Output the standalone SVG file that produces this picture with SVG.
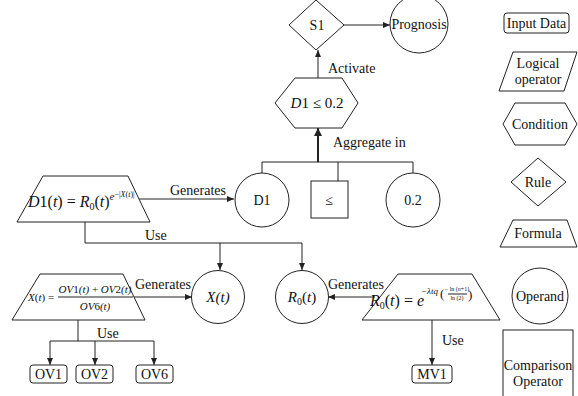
<svg xmlns="http://www.w3.org/2000/svg" width="578" height="396" viewBox="0 0 578 396" font-size="14">
<defs>
<style>
.s{fill:#fff;stroke:#222;stroke-width:1}
.c{fill:none;stroke:#222;stroke-width:1}
.ct{fill:none;stroke:#222;stroke-width:2}
text{font-family:'Liberation Serif','DejaVu Serif','Times New Roman',serif;fill:#111}
.m{text-anchor:middle}
.i{font-style:italic}
</style>
<marker id="a" markerUnits="userSpaceOnUse" markerWidth="7" markerHeight="6" refX="7" refY="3" orient="auto"><path d="M0,0 L7,3 L0,6 z" fill="#222"/></marker>
<marker id="at" markerUnits="userSpaceOnUse" markerWidth="8" markerHeight="8" refX="8" refY="4" orient="auto"><path d="M0,0 L8,4 L0,8 z" fill="#222"/></marker>
</defs>
<rect width="578" height="396" fill="#fff"/>

<g id="connectors">
<line class="c" x1="343" y1="25" x2="390" y2="25" marker-end="url(#a)"/>
<line class="c" x1="318" y1="78" x2="318" y2="50" marker-end="url(#a)"/>
<polyline class="c" points="262,173 262,162 413,162 413,173"/>
<line class="c" x1="338" y1="162" x2="338" y2="181"/>
<line class="ct" x1="318" y1="162" x2="318" y2="128" marker-end="url(#at)"/>
<line class="c" x1="137" y1="199" x2="234" y2="199" marker-end="url(#a)"/>
<polyline class="c" points="85,222 85,243 302,243 302,270" marker-end="url(#a)"/>
<line class="c" x1="220" y1="243" x2="220" y2="270" marker-end="url(#a)"/>
<line class="c" x1="133" y1="297" x2="192" y2="297" marker-end="url(#a)"/>
<line class="c" x1="78" y1="320" x2="78" y2="341"/>
<line class="c" x1="50" y1="341" x2="154" y2="341"/>
<line class="c" x1="50" y1="341" x2="50" y2="365" marker-end="url(#a)"/>
<line class="c" x1="95" y1="341" x2="95" y2="365" marker-end="url(#a)"/>
<line class="c" x1="154" y1="341" x2="154" y2="365" marker-end="url(#a)"/>
<line class="c" x1="375" y1="297" x2="328" y2="297" marker-end="url(#a)"/>
<line class="c" x1="432" y1="320" x2="432" y2="365" marker-end="url(#a)"/>
<text x="328" y="73">Activate</text>
<text x="333" y="147">Aggregate in</text>
<text x="170" y="195">Generates</text>
<text x="145" y="240">Use</text>
<text x="135" y="289">Generates</text>
<text x="97" y="338">Use</text>
<text x="328" y="289">Generates</text>
<text x="442" y="345">Use</text>
</g>

<g id="s1"><polygon class="s" points="316,0 344,25 316,50 289,25"/><text class="m" x="317" y="30">S1</text></g>
<g id="prognosis"><circle class="s" cx="419" cy="24" r="29"/><text class="m" x="419" y="29">Prognosis</text></g>
<g id="cond"><polygon class="s" points="275,103 295,78 342,78 358,103 342,128 295,128"/><text class="m" x="317" y="108" font-size="15"><tspan class="i">D</tspan>1 ≤ 0.2</text></g>
<g id="d1"><circle class="s" cx="262" cy="200" r="27"/><text class="m" x="262" y="205">D1</text></g>
<g id="le"><rect class="s" x="311" y="181" width="37" height="37"/><text class="m" x="329" y="205">≤</text></g>
<g id="v02"><circle class="s" cx="413" cy="200" r="27"/><text class="m" x="413" y="205">0.2</text></g>

<g id="f-d1"><polygon class="s" points="43,176 128,176 150,222 17,222"/>
<text x="28" y="207" font-size="16"><tspan class="i">D</tspan>1(<tspan class="i">t</tspan>) = <tspan class="i">R</tspan><tspan font-size="10" dy="3">0</tspan><tspan dy="-3">(</tspan><tspan class="i">t</tspan>)<tspan class="i" font-size="11" dy="-7">e</tspan><tspan font-size="8" dy="-3">−|<tspan class="i">X</tspan>(<tspan class="i">t</tspan>)|</tspan></text>
</g>

<g id="xt"><circle class="s" cx="218" cy="297" r="26.5"/><text class="m i" x="218" y="302" font-size="15">X(t)</text></g>
<g id="r0"><circle class="s" cx="302" cy="297" r="26.5"/><text class="m" x="302" y="302" font-size="15"><tspan class="i">R</tspan><tspan font-size="10" dy="3">0</tspan><tspan dy="-3">(</tspan><tspan class="i">t</tspan>)</text></g>

<g id="f-x"><polygon class="s" points="40,274 123,274 145,320 12,320"/>
<text x="28" y="301" font-size="11"><tspan class="i">X</tspan>(<tspan class="i">t</tspan>) =</text>
<text class="m i" x="95" y="293" font-size="11">OV<tspan font-style="normal">1</tspan>(t) <tspan font-style="normal">+</tspan> OV<tspan font-style="normal">2</tspan>(t)</text>
<line class="c" x1="58" y1="297" x2="133" y2="297"/>
<text class="m i" x="95" y="310" font-size="11">OV<tspan font-style="normal">6</tspan>(t)</text>
</g>

<g id="f-r0"><polygon class="s" points="398,274 472,274 500,320 362,320"/>
<text x="370" y="306" font-size="16"><tspan class="i">R</tspan><tspan font-size="10" dy="3">0</tspan><tspan dy="-3">(</tspan><tspan class="i">t</tspan>) = <tspan class="i">e</tspan></text>
<text x="421" y="294" font-size="9" class="i">−λtq</text>
<text x="440" y="298" font-size="13">(</text>
<text class="m" x="457" y="291" font-size="6">− ln (<tspan class="i">n</tspan>+1)</text>
<line class="c" x1="448" y1="294" x2="467" y2="294" stroke-width="0.6"/>
<text class="m" x="457" y="300" font-size="6">ln (2)</text>
<text x="468" y="299" font-size="13">)</text>
</g>

<g id="ov1"><rect class="s" x="30" y="365" width="37" height="18" rx="3"/><text class="m" x="48.5" y="379">OV1</text></g>
<g id="ov2"><rect class="s" x="76" y="365" width="37" height="18" rx="3"/><text class="m" x="94.5" y="379">OV2</text></g>
<g id="ov6"><rect class="s" x="136" y="365" width="37" height="18" rx="3"/><text class="m" x="154.5" y="379">OV6</text></g>
<g id="mv1"><rect class="s" x="412" y="365" width="40" height="18" rx="3"/><text class="m" x="432" y="379">MV1</text></g>

<g id="leg-input"><rect class="s" x="504" y="13" width="65" height="20" rx="3"/><text class="m" x="536.5" y="28">Input Data</text></g>
<g id="leg-logic"><polygon class="s" points="513,52 577,52 564,91 499,91"/><text class="m" x="538" y="68">Logical</text><text class="m" x="538" y="84">operator</text></g>
<g id="leg-cond"><polygon class="s" points="503,124 515,103 565,103 577,124 565,145 515,145"/><text class="m" x="540" y="129">Condition</text></g>
<g id="leg-rule"><polygon class="s" points="538,158 566,182 538,206 511,182"/><text class="m" x="538" y="187">Rule</text></g>
<g id="leg-formula"><polygon class="s" points="513,220 567,220 577,247 500,247"/><text class="m" x="538" y="238">Formula</text></g>
<g id="leg-operand"><circle class="s" cx="540" cy="296" r="28"/><text class="m" x="540" y="301">Operand</text></g>
<g id="leg-comp"><rect class="s" x="503" y="330" width="70" height="75"/><text class="m" x="538" y="370">Comparison</text><text class="m" x="538" y="386">Operator</text></g>
</svg>
